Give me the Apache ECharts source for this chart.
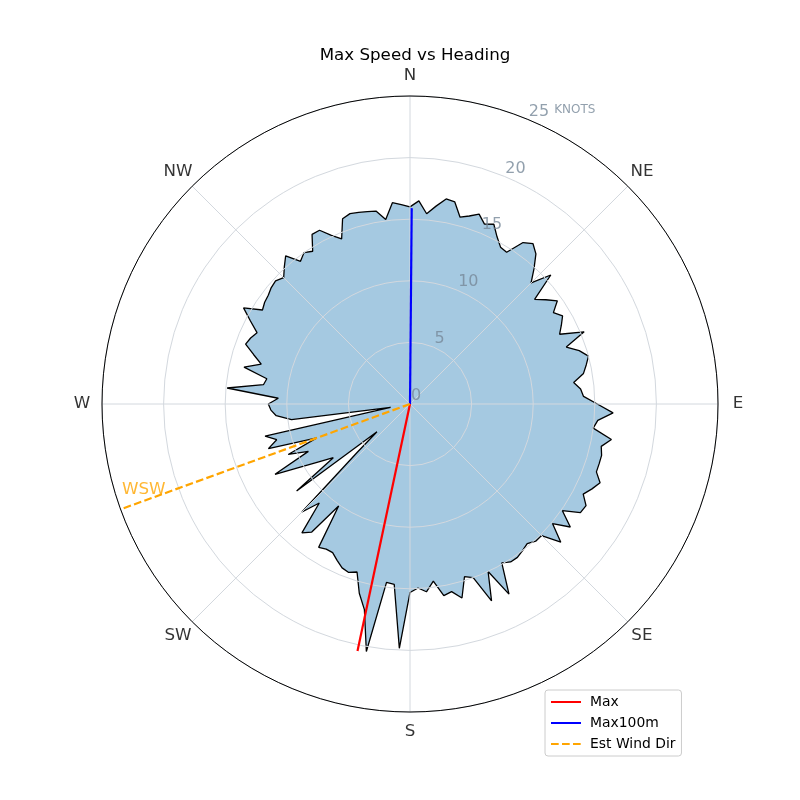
<!DOCTYPE html>
<html><head><meta charset="utf-8">
<script src="https://cdn.jsdelivr.net/npm/echarts@6/dist/echarts.min.js"></script>
<style>html,body{margin:0;padding:0;background:#fff}#c{width:800px;height:800px}</style>
</head><body><div id="c"></div>
<script>
// Heading bins (degrees, clockwise from North)
const headings = [
  0, 2.5, 5, 7.5, 10, 12.5, 15, 17.5, 20, 22.5, 25, 27.5, 30, 32.5, 35, 37.5, 40, 42.5,
  45, 47.5, 50, 52.5, 55, 57.5, 60, 62.5, 65, 67.5, 70, 72.5, 75, 77.5, 80, 82.5, 85, 87.5,
  90, 92.5, 95, 97.5, 100, 102.5, 105, 107.5, 110, 112.5, 115, 117.5, 120, 122.5, 125, 127.5, 130, 132.5,
  135, 137.5, 140, 142.5, 145, 147.5, 150, 152.5, 155, 157.5, 160, 162.5, 165, 167.5, 170, 172.5, 175, 177.5,
  180, 182.5, 185, 187.5, 190, 192.5, 195, 197.5, 200, 202.5, 205, 207.5, 210, 212.5, 215, 217.5, 220, 222.5,
  225, 227.5, 230, 232.5, 235, 237.5, 240, 242.5, 245, 247.5, 250, 252.5, 255, 257.5, 260, 262.5, 265, 267.5,
  270, 272.5, 275, 277.5, 280, 282.5, 285, 287.5, 290, 292.5, 295, 297.5, 300, 302.5, 305, 307.5, 310, 312.5,
  315, 317.5, 320, 322.5, 325, 327.5, 330, 332.5, 335, 337.5, 340, 342.5, 345, 347.5, 350, 352.5, 355, 357.5
];
// Max speed (knots) per heading bin
const maxSpeeds = [
  16.0, 16.5, 15.5, 16.2, 16.9, 16.8, 15.7, 16.0, 16.4, 15.8, 16.1, 15.3, 14.7, 14.6, 16.0, 16.4, 15.9, 14.9,
  13.9, 15.5, 13.2, 13.9, 14.6, 13.8, 14.3, 13.85, 13.4, 15.3, 13.5, 14.4, 15.0, 14.65, 14.3, 13.4, 13.9, 14.1,
  15.2, 16.5, 15.3, 15.0, 16.6, 15.9, 16.1, 16.1, 16.1, 16.7, 16.3, 15.85, 16.5, 16.4, 15.1, 16.4, 15.1, 16.6,
  15.1, 15.1, 14.8, 15.0, 15.2, 15.2, 14.9, 17.4, 15.0, 17.3, 15.0, 14.7, 16.3, 15.6, 15.8, 14.5, 15.3, 14.95,
  15.3, 19.85, 14.7, 14.6, 20.4, 17.1, 15.9, 14.3, 14.55, 14.4, 14.0, 13.6, 13.6, 13.8, 10.1, 13.1, 13.65, 10.9,
  12.4, 5.8, 3.5, 11.6, 7.6, 8.7, 10.2, 12.35, 9.1, 10.7, 8.05, 12.05, 11.2, 12.05, 1.6, 9.7, 10.9, 11.3,
  11.5, 10.7, 14.9, 12.0, 11.8, 13.8, 12.5, 13.3, 14.2, 14.0, 13.7, 14.6, 15.6, 14.2, 14.4, 14.5, 14.7, 14.8,
  14.5, 15.1, 15.7, 14.6, 15.0, 14.7, 15.9, 15.9, 15.1, 14.5, 16.0, 16.2, 16.1, 16.0, 15.9, 15.1, 16.4, 16.2
];
const compassNames = ['N', 'NE', 'E', 'SE', 'S', 'SW', 'W', 'NW'];
const compassAngles = [0, 45, 90, 135, 180, 225, 270, 315];
const radialTicks = [0, 5, 10, 15, 20, 25];
const radialLabelAngle = 22.5;
const radialUnit = 'KNOTS';
const maxHeading = 192, maxValue = 20.5;
const max100mHeading = 0.5, max100mValue = 15.9;
const windHeading = 250, windLabel = 'WSW', windLabelRadius = 23;
const rMax = 25;

const FONT = 'DejaVu Sans';
const GRID = '#d3d8de';
const chart = echarts.init(document.getElementById('c'), null, {renderer: 'canvas'});

const polygon = headings.map((h, i) => [maxSpeeds[i], h]);
polygon.push([maxSpeeds[0], 360]);

const option = {
  animation: false,
  backgroundColor: '#fff',
  title: {
    text: 'Max Speed vs Heading', left: 410, top: 42, textAlign: 'center',
    textStyle: {fontFamily: FONT, fontSize: 16.7, fontWeight: 'normal', color: '#000'}
  },
  legend: {
    orient: 'vertical', left: 545, top: 690,
    data: ['Max', 'Max100m', 'Est Wind Dir'],
    itemWidth: 30, itemHeight: 14, itemGap: 7,
    padding: [5, 6, 5, 5],
    itemStyle: {opacity: 0},
    backgroundColor: '#fff', borderColor: '#cccccc', borderWidth: 1, borderRadius: 3,
    textStyle: {fontFamily: FONT, fontSize: 13.9, color: '#000', padding: [0, 0, 0, 4]}
  },
  polar: [
    {center: [410, 404], radius: 308},
    {center: [410, 404], radius: 328}
  ],
  angleAxis: [
    {
      polarIndex: 0, type: 'value', min: 0, max: 360, interval: 45, startAngle: 90, clockwise: true, z: 3,
      axisLine: {show: true, lineStyle: {color: '#000', width: 1}},
      axisTick: {show: false}, axisLabel: {show: false},
      splitLine: {show: true, lineStyle: {color: GRID, width: 1}}
    },
    {
      polarIndex: 1, type: 'value', min: 0, max: 360, startAngle: 90, clockwise: true,
      axisLine: {show: false}, axisTick: {show: false}, axisLabel: {show: false}, splitLine: {show: false}
    }
  ],
  radiusAxis: [
    {
      polarIndex: 0, type: 'value', min: 0, max: rMax, interval: 5, z: 3,
      axisLine: {show: false}, axisTick: {show: false}, axisLabel: {show: false},
      splitLine: {show: true, lineStyle: {color: GRID, width: 1}}
    },
    {
      polarIndex: 1, type: 'value', min: 0, max: rMax,
      axisLine: {show: false}, axisTick: {show: false}, axisLabel: {show: false}, splitLine: {show: false}
    }
  ],
  series: [
    {
      name: 'MaxSpeedArea', type: 'line', coordinateSystem: 'polar', polarIndex: 0,
      data: polygon, symbol: 'none', smooth: false, z: 1,
      lineStyle: {color: '#000', width: 1.3},
      areaStyle: {color: '#1f77b4', opacity: 0.4}
    },
    {
      name: 'Max', type: 'line', coordinateSystem: 'polar', polarIndex: 0,
      data: [[0, maxHeading], [maxValue, maxHeading]], symbol: 'none', z: 5,
      lineStyle: {color: '#ff0000', width: 2.2}, itemStyle: {color: '#ff0000', opacity: 0}
    },
    {
      name: 'Max100m', type: 'line', coordinateSystem: 'polar', polarIndex: 0,
      data: [[0, max100mHeading], [max100mValue, max100mHeading]], symbol: 'none', z: 5,
      lineStyle: {color: '#0000ff', width: 2.2}, itemStyle: {color: '#0000ff', opacity: 0}
    },
    {
      name: 'Est Wind Dir', type: 'line', coordinateSystem: 'polar', polarIndex: 0,
      data: [[0, windHeading], [rMax, windHeading]], symbol: 'none', z: 5,
      lineStyle: {color: '#ffa500', width: 2.2, type: [7.7, 3.3]}, itemStyle: {color: '#ffa500', opacity: 0}
    },
    {
      name: 'windLabel', type: 'scatter', coordinateSystem: 'polar', polarIndex: 0,
      data: [[windLabelRadius, windHeading]], symbolSize: 1, itemStyle: {color: 'transparent'}, z: 6,
      silent: true,
      label: {show: true, position: 'inside', formatter: windLabel, align: 'center', verticalAlign: 'bottom',
        offset: [0, -3], fontFamily: FONT, fontSize: 16.7, color: '#ffa500'}
    },
    {
      name: 'radialLabels', type: 'scatter', coordinateSystem: 'polar', polarIndex: 0,
      data: radialTicks.map(r => [r, radialLabelAngle]), symbolSize: 1, itemStyle: {color: 'transparent'}, z: 6,
      silent: true,
      label: {
        show: true, position: 'inside', align: 'left', verticalAlign: 'bottom', offset: [1, 0],
        formatter: p => p.data[0] === rMax ? '{a|' + p.data[0] + '}{b|' + radialUnit + '}' : '{a|' + p.data[0] + '}',
        rich: {
          a: {fontFamily: FONT, fontSize: 16, color: '#778899'},
          b: {fontFamily: FONT, fontSize: 12, color: '#778899', padding: [0, 0, 3, 5]}
        }
      }
    },
    {
      name: 'compass', type: 'scatter', coordinateSystem: 'polar', polarIndex: 1,
      data: compassAngles.map((a, i) => [rMax, a, compassNames[i]]), symbolSize: 1,
      itemStyle: {color: 'transparent'}, silent: true,
      label: {show: true, position: 'inside', align: 'center', verticalAlign: 'middle',
        formatter: p => p.data[2], fontFamily: FONT, fontSize: 16.7, color: '#000'}
    }
  ]
};
chart.setOption(option);
</script>
</body></html>
